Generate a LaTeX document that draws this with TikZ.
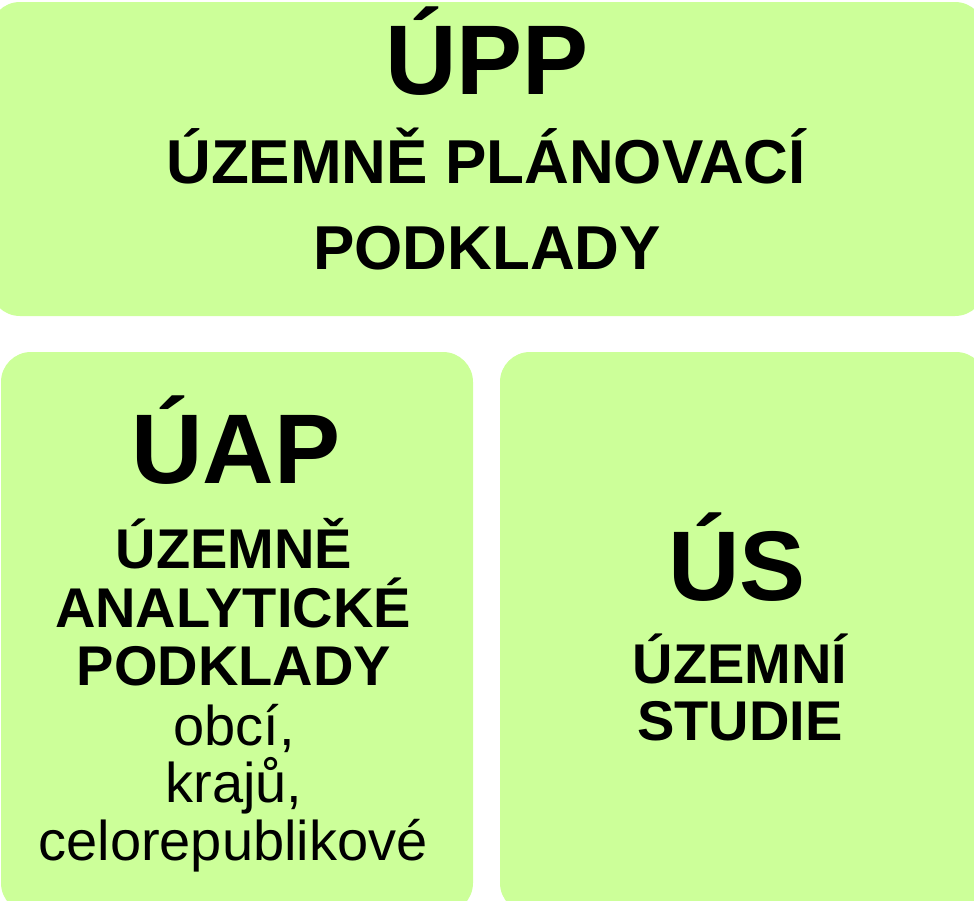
\documentclass[tikz,border=0pt]{standalone}
\usepackage{fontspec}
\setmainfont{Liberation Sans}
\definecolor{panelgreen}{HTML}{CCFF99}
\tikzset{
  panel/.style={fill=panelgreen, rounded corners=30pt},
  abbr/.style={anchor=base, inner sep=0pt, font=\fontsize{99}{99}\selectfont\bfseries},
  headline/.style={anchor=base, inner sep=0pt, font=\fontsize{62}{62}\selectfont\bfseries},
  subline/.style={anchor=base, inner sep=0pt, font=\fontsize{56}{56}\selectfont\bfseries},
  plainline/.style={anchor=base, inner sep=0pt, font=\fontsize{56}{56}\selectfont},
}

\begin{document}
\begin{tikzpicture}[x=1pt,y=-1pt]
  \useasboundingbox (0,0) rectangle (974,900);
  \clip (0,0) rectangle (974,900);
  % Panels
  \path[panel] (-10,2) rectangle (985,316);
  \path[panel] (1,352) rectangle (473,913);
  \path[panel] (500,352) rectangle (986,913);
  % Top panel
  \node[abbr] (upp) at (487,94) {ÚPP};
  \node[headline] (uppa) at (486,183) {ÚZEMNĚ PLÁNOVACÍ};
  \node[headline] (uppb) at (487,269) {PODKLADY};
  % Left panel
  \node[abbr] (uap) at (236,483) {ÚAP};
  \node[subline] (uapa) at (234,568) {ÚZEMNĚ};
  \node[subline] (uapb) at (233,627) {ANALYTICKÉ};
  \node[subline] (uapc) at (234,685) {PODKLADY};
  \node[plainline] (uapd) at (234,745) {obcí,};
  \node[plainline] (uape) at (234,802) {krajů,};
  \node[plainline] (uapf) at (233,860) {celorepublikové};
  % Right panel
  \node[abbr] (us) at (737,600) {ÚS};
  \node[subline] (usa) at (740,683) {ÚZEMNÍ};
  \node[subline] (usb) at (740,740) {STUDIE};
\end{tikzpicture}
\end{document}
